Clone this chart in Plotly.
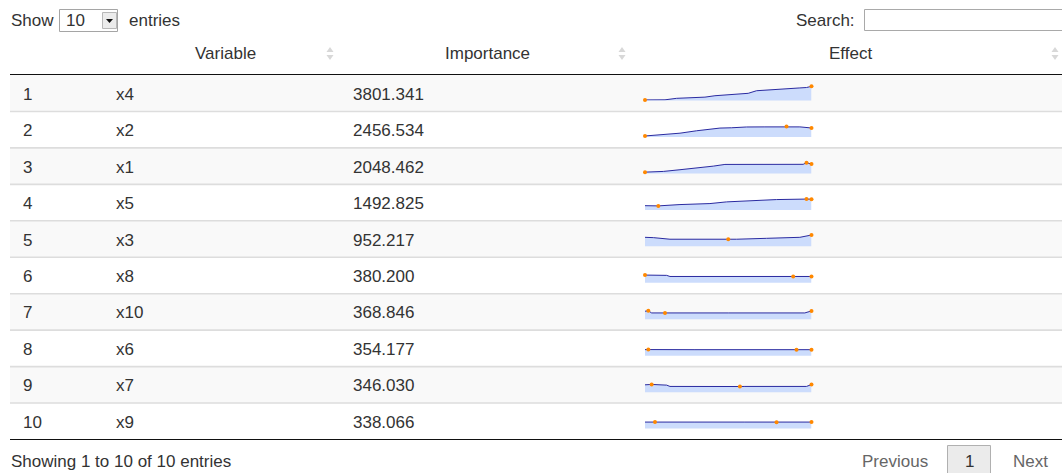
import numpy as np
import plotly.graph_objects as go

# ---------------- data ----------------
ranks = [1, 2, 3, 4, 5, 6, 7, 8, 9, 10]
variables = ["x4", "x2", "x1", "x5", "x3", "x8", "x10", "x6", "x7", "x9"]
importance = [3801.341, 2456.534, 2048.462, 1492.825, 952.217,
              380.200, 368.846, 354.177, 346.030, 338.066]
headers = ["Variable", "Importance", "Effect"]

x4_grid = [0, 0.12, 0.19, 0.26, 0.36, 0.42, 0.55, 0.62, 0.67, 0.73, 0.83, 0.93, 0.97, 1.0]
x4_effect = [10.6, 10.7, 12.2, 12.6, 13.4, 14.8, 16.2, 17.2, 19.8, 20.6, 21.5, 22.6, 23.0, 24.2]
x2_grid = [0, 0.11, 0.21, 0.31, 0.38, 0.45, 0.52, 0.61, 0.72, 0.85, 0.93, 1.0]
x2_effect = [11.0, 12.2, 13.8, 16.2, 17.6, 18.9, 19.2, 20.0, 20.1, 20.5, 20.1, 19.0]
x1_grid = [0, 0.11, 0.21, 0.31, 0.41, 0.48, 0.7, 0.95, 0.97, 1.0]
x1_effect = [11.3, 12.0, 13.7, 15.3, 17.3, 19.0, 19.1, 19.1, 20.7, 19.4]
x5_grid = [0, 0.08, 0.21, 0.39, 0.49, 0.63, 0.79, 0.97, 1.0]
x5_effect = [14.2, 14.0, 15.3, 16.3, 18.0, 19.0, 20.3, 20.8, 20.7]
x3_grid = [0, 0.05, 0.15, 0.50, 0.55, 0.73, 0.93, 1.0]
x3_effect = [19.0, 18.7, 17.1, 17.0, 17.1, 18.0, 19.0, 21.3]
x8_grid = [0, 0.13, 0.15, 0.50, 0.89, 1.0]
x8_effect = [17.7, 17.4, 16.3, 16.3, 16.2, 16.3]
x10_grid = [0, 0.02, 0.04, 0.12, 0.5, 0.96, 1.0]
x10_effect = [18.0, 18.4, 16.3, 16.2, 16.3, 16.3, 18.3]
x6_grid = [0, 0.02, 0.3, 0.7, 0.91, 1.0]
x6_effect = [16.05, 16.1, 16.0, 16.0, 15.95, 16.0]
x7_grid = [0, 0.04, 0.13, 0.15, 0.57, 0.6, 0.97, 1.0]
x7_effect = [17.3, 17.7, 17.0, 15.7, 15.6, 15.7, 15.7, 17.6]
x9_grid = [0, 0.06, 0.3, 0.6, 0.79, 1.0]
x9_effect = [16.5, 16.6, 16.5, 16.5, 16.4, 16.5]

effect_grids = [x4_grid, x2_grid, x1_grid, x5_grid, x3_grid,
                x8_grid, x10_grid, x6_grid, x7_grid, x9_grid]
effect_values = [x4_effect, x2_effect, x1_effect, x5_effect, x3_effect,
                 x8_effect, x10_effect, x6_effect, x7_effect, x9_effect]

# ---------------- layout constants ----------------
W, H = 1062, 473
FONT = "Liberation Sans, Arial, Helvetica, sans-serif"
TXT = "#333333"
TABLE_L = 10
ROW_TOP0 = 75.0
ROW_H = 36.45
SPARK_X0, SPARK_X1 = 645, 811.5
EFFECT_RANGE = [10, 25]
LINE_COL = "#2a2aa0"
FILL_COL = "#ccdcfc"
SPOT_COL = "#ff8800"

fig = go.Figure()
# base canvas axes in pixel units
fig.add_trace(go.Scatter(x=[], y=[], xaxis="x", yaxis="y", showlegend=False, hoverinfo="skip"))

shapes = []
annotations = []


def txt(x, y, s, anchor="left", color=TXT, size=17):
    annotations.append(dict(x=x, y=y, xref="x", yref="y", text=s, showarrow=False,
                            xanchor=anchor, yanchor="middle",
                            font=dict(family=FONT, size=size, color=color)))


# --- top controls
txt(9, 20.5, "Show")
shapes.append(dict(type="rect", xref="x", yref="y", x0=59.5, x1=117.5, y0=9.5, y1=31.5,
                   line=dict(color="#a5a5a5", width=1), fillcolor="white", layer="below"))
shapes.append(dict(type="rect", xref="x", yref="y", x0=102.5, x1=116.5, y0=12.5, y1=28.5,
                   line=dict(color="#b8b8b8", width=1), fillcolor="#ececec", layer="below"))
shapes.append(dict(type="path", xref="x", yref="y", path="M 106 19 L 113 19 L 109.5 23 Z",
                   line=dict(width=0), fillcolor="#111111", layer="below"))
txt(64, 20.5, "10")
txt(127, 20.5, "entries")
txt(857, 20, "Search:", anchor="right")
shapes.append(dict(type="rect", xref="x", yref="y", x0=864.5, x1=1075, y0=9.5, y1=30.5,
                   line=dict(color="#a9a9a9", width=1), fillcolor="white", layer="below"))

# --- header
header_centers = [225, 487, 850]
sort_icons = [330, 622, 1055]
for h, cx in zip(headers, header_centers):
    txt(cx, 53, h, anchor="center")
for cx in sort_icons:
    shapes.append(dict(type="path", xref="x", yref="y",
                       path=f"M {cx-3.5} 52 L {cx+3.5} 52 L {cx} 47 Z",
                       line=dict(width=0), fillcolor="#d8d8d8", layer="below"))
    shapes.append(dict(type="path", xref="x", yref="y",
                       path=f"M {cx-3.5} 55 L {cx+3.5} 55 L {cx} 60 Z",
                       line=dict(width=0), fillcolor="#d8d8d8", layer="below"))

# --- rows
for i in range(len(variables)):
    top = ROW_TOP0 + i * ROW_H
    bot = top + ROW_H
    mid = (top + bot) / 2
    if i % 2 == 0:
        shapes.append(dict(type="rect", xref="x", yref="y", x0=TABLE_L, x1=W + 5, y0=top, y1=bot,
                           line=dict(width=0), fillcolor="#f9f9f9", layer="below"))
    if i > 0:
        shapes.append(dict(type="line", xref="x", yref="y", x0=TABLE_L, x1=W + 5, y0=top, y1=top,
                           line=dict(color="#dddddd", width=1.6), layer="below"))
    txt(21, mid + 1, str(ranks[i]))
    txt(114, mid + 1, variables[i])
    txt(351, mid + 1, f"{importance[i]:.3f}")

    # sparkline subplot
    n = i + 2
    ybot = mid + 7.3
    ytop = mid - 7.7
    xa = dict(domain=[SPARK_X0 / W, SPARK_X1 / W], range=[0, 1], visible=False, fixedrange=True)
    ya = dict(domain=[1 - ybot / H, 1 - ytop / H], range=EFFECT_RANGE, visible=False, fixedrange=True)
    fig.layout[f"xaxis{n}"] = dict(xa, anchor=f"y{n}")
    fig.layout[f"yaxis{n}"] = dict(ya, anchor=f"x{n}")
    gx = effect_grids[i]
    gy = effect_values[i]
    fig.add_trace(go.Scatter(x=gx, y=gy, mode="lines", fill="tozeroy", fillcolor=FILL_COL,
                             line=dict(color=LINE_COL, width=1), xaxis=f"x{n}", yaxis=f"y{n}",
                             showlegend=False, hoverinfo="skip"))
    spots = sorted({int(np.argmin(gy)), int(np.argmax(gy)), len(gy) - 1})
    fig.add_trace(go.Scatter(x=[gx[k] for k in spots], y=[gy[k] for k in spots], mode="markers",
                             marker=dict(color=SPOT_COL, size=4, line=dict(width=0)),
                             xaxis=f"x{n}", yaxis=f"y{n}", cliponaxis=False,
                             showlegend=False, hoverinfo="skip"))

# header and bottom rules
shapes.append(dict(type="line", xref="x", yref="y", x0=TABLE_L, x1=W + 5, y0=74.5, y1=74.5,
                   line=dict(color="#111111", width=1.2), layer="above"))
bottom_y = ROW_TOP0 + len(variables) * ROW_H
shapes.append(dict(type="line", xref="x", yref="y", x0=TABLE_L, x1=W + 5, y0=bottom_y, y1=bottom_y,
                   line=dict(color="#111111", width=1.2), layer="above"))

# --- footer
txt(9, 461, "Showing 1 to 10 of 10 entries")
txt(860, 461, "Previous", color="#666666")
shapes.append(dict(type="rect", xref="x", yref="y", x0=947.5, x1=990.5, y0=445.5, y1=485,
                   line=dict(color="#b0b0b0", width=1), fillcolor="#ebebeb", layer="below"))
txt(969, 461, "1", anchor="center")
txt(1011, 461, "Next", color="#666666")

fig.update_layout(
    width=W, height=H, autosize=False,
    margin=dict(l=0, r=0, t=0, b=0, pad=0),
    paper_bgcolor="white", plot_bgcolor="rgba(0,0,0,0)",
    font=dict(family=FONT, size=17, color=TXT),
    xaxis=dict(domain=[0, 1], range=[0, W], visible=False, fixedrange=True),
    yaxis=dict(domain=[0, 1], range=[H, 0], visible=False, fixedrange=True),
    shapes=shapes, annotations=annotations, showlegend=False,
)

fig.write_html("out.html", config={"displayModeBar": False, "staticPlot": True},
               post_script="document.body.style.margin='0px';document.body.style.overflow='hidden';")
